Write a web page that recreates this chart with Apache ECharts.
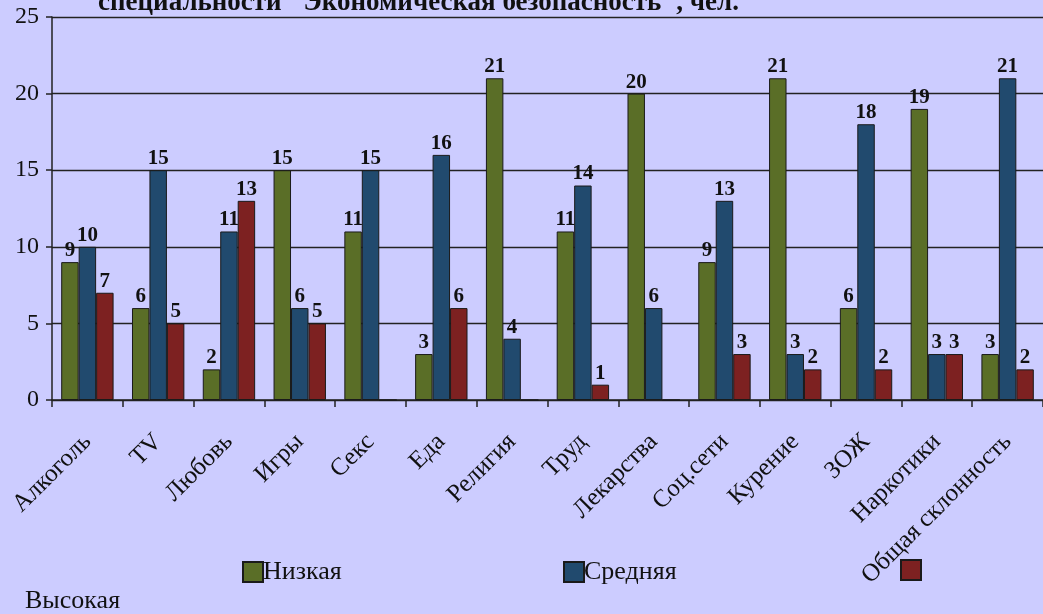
<!DOCTYPE html>
<html>
<head>
<meta charset="utf-8">
<script src="https://cdn.jsdelivr.net/npm/echarts@6/dist/echarts.min.js"></script>
<style>
html,body{margin:0;padding:0;background:#CCCCFF;}
#c{width:1043px;height:614px;}
</style>
</head>
<body>
<div id="c"></div>
<script>
var categories = ['Алкоголь','TV','Любовь','Игры','Секс','Еда','Религия','Труд','Лекарства','Соц.сети','Курение','ЗОЖ','Наркотики','Общая склонность'];
var lowValues = [9,6,2,15,11,3,21,11,20,9,21,6,19,3];
var midValues = [10,15,11,6,15,16,4,14,6,13,3,18,3,21];
var highValues = [7,5,13,5,0,6,0,1,0,3,2,2,3,2];
var seriesNames = ['Низкая','Средняя','Высокая'];
var yTicks = [0,5,10,15,20,25];
var titleText = 'специальности "Экономическая безопасность", чел.';

var serif = '"Liberation Serif","DejaVu Serif",serif';
var colors = ['#5A6E27','#214A6E','#7D2121'];
var chart = echarts.init(document.getElementById('c'));

function mk(name, data, color){
  return {
    name: name, type: 'bar', data: data,
    barGap: '0%', barCategoryGap: '26%',
    itemStyle: {color: color, borderColor: '#1a1a1a', borderWidth: 1},
    label: {
      show: true, position: 'top', distance: 1,
      fontFamily: serif, fontWeight: 'bold', fontSize: 21, color: '#111',
      formatter: function(p){ return p.value === 0 ? '' : String(p.value); }
    }
  };
}

var legendText = {fontFamily: serif, fontSize: 26, color: '#111', padding: [0,0,0,-5]};

chart.setOption({
  backgroundColor: '#CCCCFF',
  animation: false,
  title: {
    text: titleText, left: 93, top: -15,
    textStyle: {fontFamily: serif, fontWeight: 'bold', fontSize: 27, color: '#111'}
  },
  grid: {left: 52, top: 17, width: 997, height: 383, containLabel: false},
  legend: [
    {data: [{name: seriesNames[0], icon: 'rect'}], left: 242, top: 559, itemWidth: 20, itemHeight: 20, padding: 0,
     textStyle: legendText},
    {data: [{name: seriesNames[1], icon: 'rect'}], left: 563, top: 559, itemWidth: 20, itemHeight: 20, padding: 0,
     textStyle: legendText},
    {data: [{name: seriesNames[2], icon: 'rect'}], left: 900, top: 559, itemWidth: 20, itemHeight: 20, padding: 0,
     formatter: function(){ return ''; },
     textStyle: legendText}
  ],
  graphic: [{
    type: 'text', left: 25, top: 588,
    style: {text: seriesNames[2], font: '26px ' + serif, fill: '#111'}
  }],
  xAxis: {
    type: 'category', data: categories,
    axisLine: {lineStyle: {color: '#222', width: 1.5}},
    axisTick: {show: true, length: 7, lineStyle: {color: '#222', width: 1.5}},
    axisLabel: {rotate: 45, fontFamily: serif, fontSize: 25, color: '#111', margin: 38, interval: 0}
  },
  yAxis: {
    type: 'value', min: yTicks[0], max: yTicks[yTicks.length-1], interval: 5,
    axisLine: {show: true, lineStyle: {color: '#222', width: 1.5}},
    axisTick: {show: true, length: 6, lineStyle: {color: '#222', width: 1.5}},
    axisLabel: {fontFamily: serif, fontSize: 24, color: '#111', margin: 13},
    splitLine: {lineStyle: {color: '#222', width: 1.3}}
  },
  series: [
    mk(seriesNames[0], lowValues, colors[0]),
    mk(seriesNames[1], midValues, colors[1]),
    mk(seriesNames[2], highValues, colors[2])
  ]
});
</script>
</body>
</html>
